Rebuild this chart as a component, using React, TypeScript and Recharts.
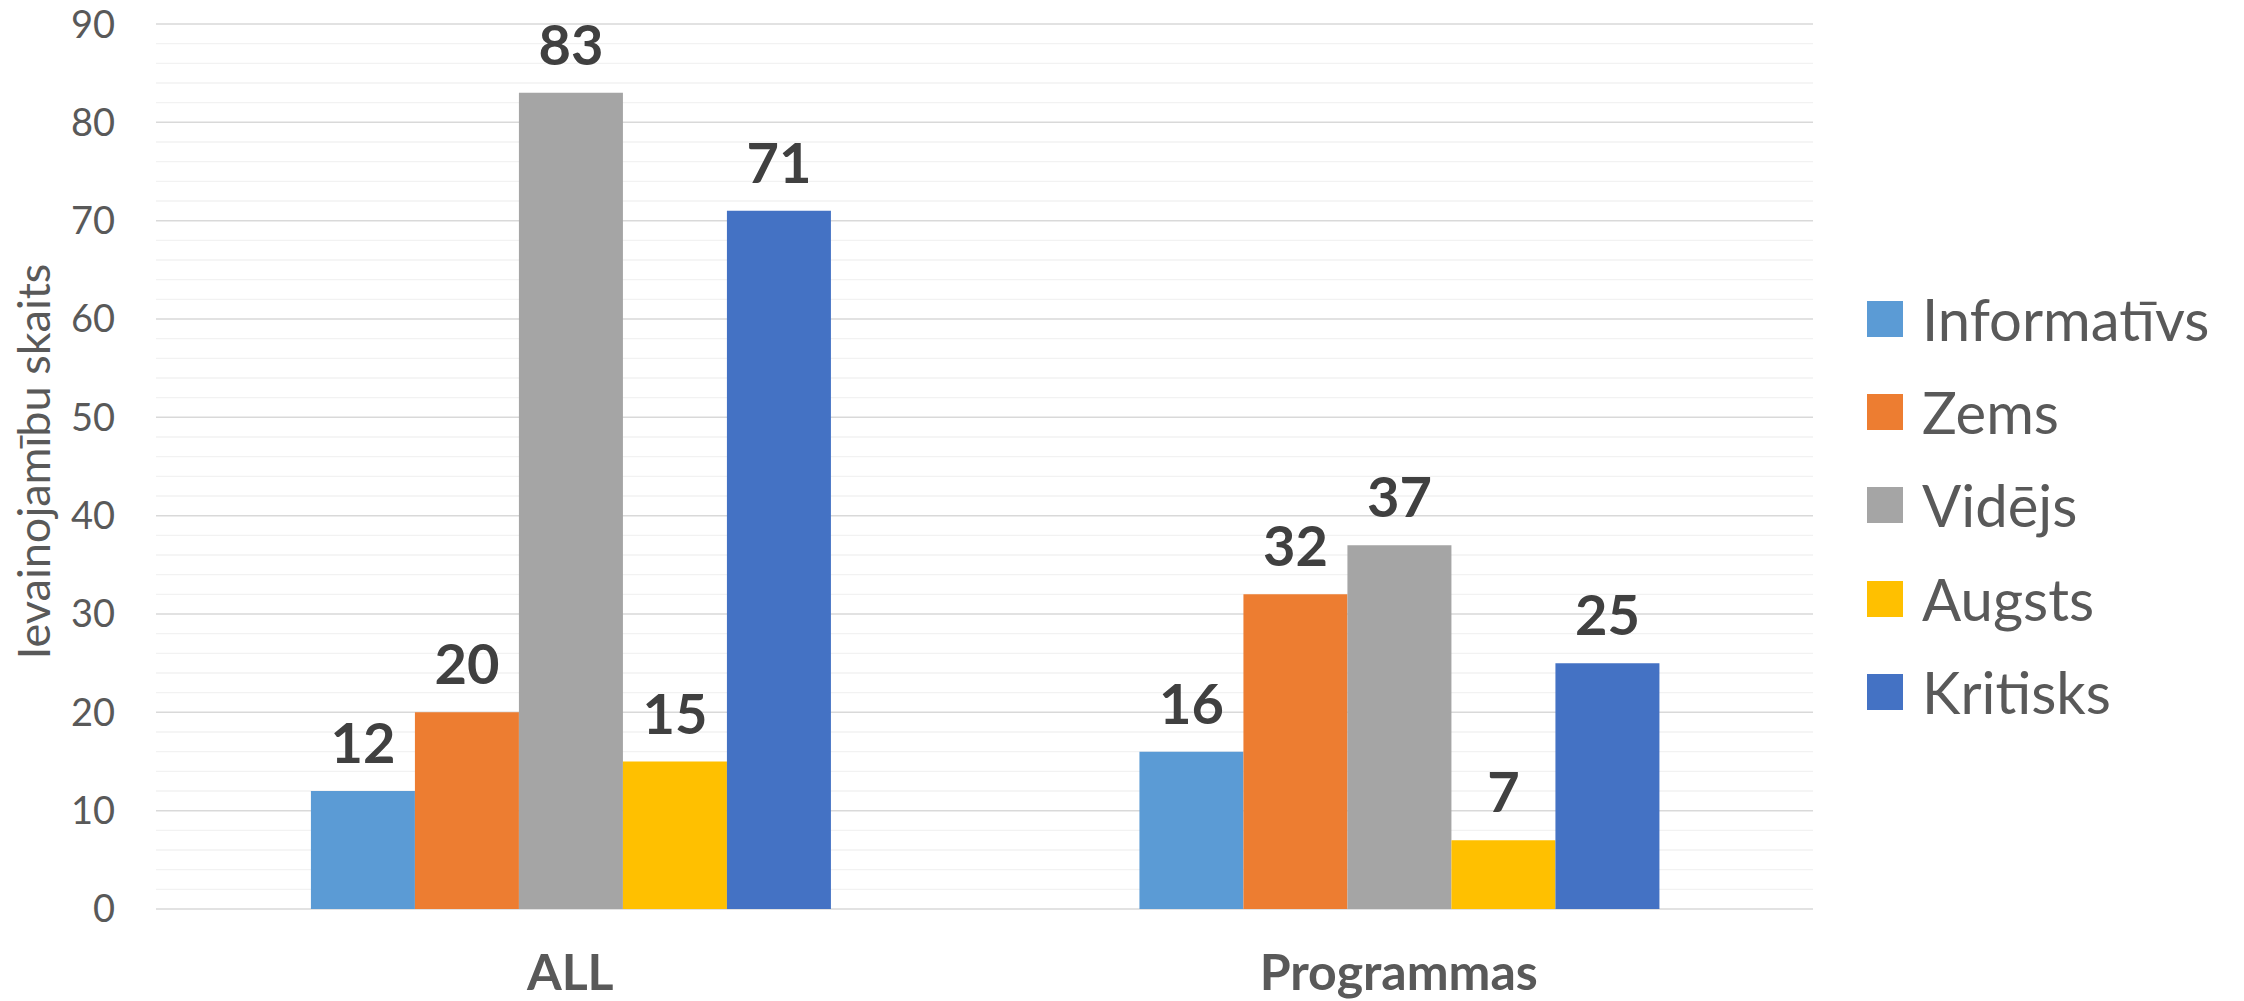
import React from 'react';
import { BarChart, Bar, XAxis, YAxis, CartesianGrid, Legend, LabelList } from 'recharts';

const categories = ['ALL', 'Programmas'];
const informativs = [12, 16];
const zems = [20, 32];
const videjs = [83, 37];
const augsts = [15, 7];
const kritisks = [71, 25];

const seriesNames = ['Informatīvs', 'Zems', 'Vidējs', 'Augsts', 'Kritisks'];
const seriesKeys = ['informativs', 'zems', 'videjs', 'augsts', 'kritisks'];
const seriesColors = ['#5B9BD5', '#ED7D31', '#A5A5A5', '#FFC000', '#4472C4'];
const seriesValues = [informativs, zems, videjs, augsts, kritisks];

const yTicks = [0, 10, 20, 30, 40, 50, 60, 70, 80, 90];
const minorTicks = [2, 4, 6, 8, 12, 14, 16, 18, 22, 24, 26, 28, 32, 34, 36, 38, 42, 44, 46, 48, 52, 54, 56, 58, 62, 64, 66, 68, 72, 74, 76, 78, 82, 84, 86, 88];

const yAxisTitle = 'Ievainojamību skaits';

const data = categories.map((name, i) => {
  const row: Record<string, string | number> = { name };
  seriesKeys.forEach((k, j) => {
    row[k] = seriesValues[j][i];
  });
  return row;
});

const FONT = 'Lato, "Open Sans", sans-serif';
const TEXT = '#595959';

const XTick = (props: any) => {
  const { x, y, payload } = props;
  return (
    <text x={x} y={y} dy={81} textAnchor="middle" fill={TEXT} fontSize={50} fontWeight={700} fontFamily={FONT}>
      {payload.value}
    </text>
  );
};

const YTitle = (props: any) => {
  const vb = props.viewBox || { x: 0, y: 0, width: 0, height: 0 };
  const cx = vb.x + 50;
  const cy = vb.y + vb.height / 2 - 5;
  return (
    <text
      x={cx}
      y={cy}
      transform={`rotate(-90, ${cx}, ${cy})`}
      textAnchor="middle"
      fill={TEXT}
      fontSize={45}
      fontFamily={FONT}
    >
      {yAxisTitle}
    </text>
  );
};

const renderLegend = (props: any) => {
  const payload = [...(props.payload || [])].sort(
    (a: any, b: any) => seriesNames.indexOf(a.value) - seriesNames.indexOf(b.value)
  );
  return (
    <div style={{ display: 'flex', flexDirection: 'column' }}>
      {payload.map((entry: any) => (
        <div key={entry.value} style={{ display: 'flex', alignItems: 'center', height: 93.3 }}>
          <span style={{ display: 'inline-block', width: 36, height: 36, background: entry.color, marginRight: 19 }} />
          <span style={{ fontSize: 58, lineHeight: 1, color: TEXT, fontFamily: FONT, whiteSpace: 'nowrap' }}>{entry.value}</span>
        </div>
      ))}
    </div>
  );
};

export default function App() {
  return (
    <div style={{ position: 'absolute', left: 0, top: 0, background: '#fff' }}>
      <BarChart
        width={2244}
        height={1001}
        data={data}
        margin={{ top: 24, right: 431, bottom: 0, left: 0 }}
        barCategoryGap="18.7%"
        barGap={0}
        style={{ fontFamily: FONT }}
      >
        <CartesianGrid vertical={false} horizontalValues={minorTicks} stroke="#f2f2f2" strokeWidth={1.3} />
        <CartesianGrid vertical={false} horizontalValues={yTicks} stroke="#d9d9d9" strokeWidth={1.5} />
        <XAxis
          dataKey="name"
          axisLine={false}
          tickLine={false}
          tickSize={0}
          tickMargin={0}
          height={92}
          tick={<XTick />}
          interval={0}
        />
        <YAxis
          domain={[0, 90]}
          ticks={yTicks}
          width={156}
          axisLine={false}
          tickLine={false}
          tickSize={0}
          tickMargin={41}
          tick={{ fill: TEXT, fontSize: 38, fontFamily: FONT }}
          label={{ content: <YTitle /> }}
          interval={0}
        />
        <Legend
          layout="horizontal"
          verticalAlign="middle"
          align="center"
          itemSorter={null as any}
          content={renderLegend}
          wrapperStyle={{ left: 1867, top: 272, width: 377, height: 'auto' }}
        />
        {seriesKeys.map((k, j) => (
          <Bar key={k} dataKey={k} name={seriesNames[j]} fill={seriesColors[j]} isAnimationActive={false}>
            <LabelList
              dataKey={k}
              position="top"
              offset={28}
              fill="#404040"
              fontSize={56}
              fontWeight={700}
              fontFamily={FONT}
            />
          </Bar>
        ))}
      </BarChart>
    </div>
  );
}
